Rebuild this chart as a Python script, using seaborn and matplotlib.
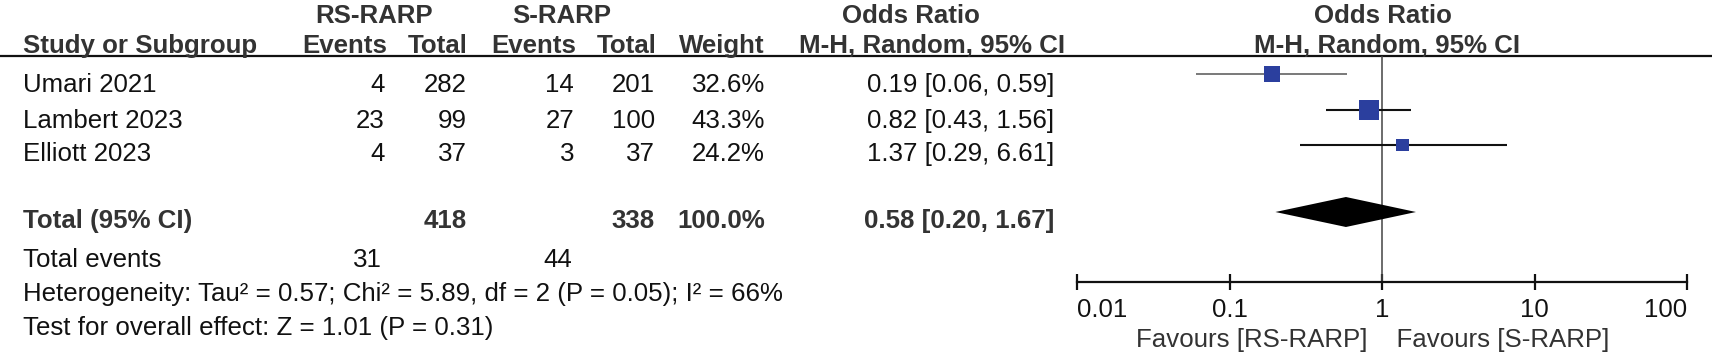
import numpy as np
import pandas as pd
import matplotlib
matplotlib.use("Agg")
import matplotlib.pyplot as plt
import matplotlib.transforms as mtransforms
import seaborn as sns

# ---------------- data ----------------
studies = ["Umari 2021", "Lambert 2023", "Elliott 2023"]
rs_events = [4, 23, 4]
rs_total = [282, 99, 37]
s_events = [14, 27, 3]
s_total = [201, 100, 37]
weights = [32.6, 43.3, 24.2]
or_est = [0.19, 0.82, 1.37]
ci_lo = [0.06, 0.43, 0.29]
ci_hi = [0.59, 1.56, 6.61]

pooled_or = 0.58
pooled_lo = 0.20
pooled_hi = 1.67
total_rs = 418
total_s = 338
total_weight = 100.0
events_rs = 31
events_s = 44

group_labels = ["RS-RARP", "S-RARP"]
heterogeneity_text = "Heterogeneity: Tau\u00b2 = 0.57; Chi\u00b2 = 5.89, df = 2 (P = 0.05); I\u00b2 = 66%"
overall_text = "Test for overall effect: Z = 1.01 (P = 0.31)"
tick_values = [0.01, 0.1, 1, 10, 100]
tick_labels = ["0.01", "0.1", "1", "10", "100"]
favours_left = "Favours [RS-RARP]"
favours_right = "Favours [S-RARP]"

# ---------------- style ----------------
sns.set_theme(style="white")
plt.rcParams["font.family"] = ["Liberation Sans", "DejaVu Sans"]

W, H = 1712, 355
DPI = 100
fig = plt.figure(figsize=(W / DPI, H / DPI), dpi=DPI)
fig.patch.set_facecolor("white")

# pixel-coordinate text layer
ax_t = fig.add_axes([0, 0, 1, 1])
ax_t.set_xlim(0, W)
ax_t.set_ylim(H, 0)
ax_t.axis("off")

FS = 18.6
HDR = "#333333"
TXT = "#111111"

# layout (pixels)
row_base = [92, 128, 161]
total_base = 228
events_base = 267
het_base = 301
test_base = 335
hdr1_base = 23
hdr2_base = 53
underline_y = 56

col_rs_ev, col_rs_tot, col_s_ev, col_s_tot, col_w, col_or = 385, 467, 574, 655, 765, 1054

def t(x, y, s, ha="left", bold=False, color=TXT, size=FS):
    ax_t.text(x, y, s, ha=ha, va="baseline", fontsize=size,
              fontweight="bold" if bold else "normal", color=color)

# headers
t(374, hdr1_base, group_labels[0], ha="center", bold=True, color=HDR)
t(562, hdr1_base, group_labels[1], ha="center", bold=True, color=HDR)
t(911, hdr1_base, "Odds Ratio", ha="center", bold=True, color=HDR)
t(1383, hdr1_base, "Odds Ratio", ha="center", bold=True, color=HDR)

t(23, hdr2_base, "Study or Subgroup", bold=True, color=HDR)
t(387, hdr2_base, "Events", ha="right", bold=True, color=HDR)
t(468, hdr2_base, "Total", ha="right", bold=True, color=HDR)
t(576, hdr2_base, "Events", ha="right", bold=True, color=HDR)
t(657, hdr2_base, "Total", ha="right", bold=True, color=HDR)
t(765, hdr2_base, "Weight", ha="right", bold=True, color=HDR)
t(932, hdr2_base, "M-H, Random, 95% CI", ha="center", bold=True, color=HDR)
t(1387, hdr2_base, "M-H, Random, 95% CI", ha="center", bold=True, color=HDR)

ax_t.plot([0, W], [underline_y, underline_y], color="#111111", lw=1.6,
          solid_capstyle="butt")

# study rows
for i, name in enumerate(studies):
    yb = row_base[i]
    t(23, yb, name)
    t(col_rs_ev, yb, str(rs_events[i]), ha="right")
    t(col_rs_tot, yb, str(rs_total[i]), ha="right")
    t(col_s_ev, yb, str(s_events[i]), ha="right")
    t(col_s_tot, yb, str(s_total[i]), ha="right")
    t(col_w, yb, f"{weights[i]:.1f}%", ha="right")
    t(col_or, yb, f"{or_est[i]:.2f} [{ci_lo[i]:.2f}, {ci_hi[i]:.2f}]", ha="right")

# total row
t(23, total_base, "Total (95% CI)", bold=True, color=HDR)
t(col_rs_tot, total_base, str(total_rs), ha="right", bold=True, color=HDR)
t(col_s_tot, total_base, str(total_s), ha="right", bold=True, color=HDR)
t(col_w, total_base, f"{total_weight:.1f}%", ha="right", bold=True, color=HDR)
t(col_or, total_base, f"{pooled_or:.2f} [{pooled_lo:.2f}, {pooled_hi:.2f}]",
  ha="right", bold=True, color=HDR)

t(23, events_base, "Total events")
t(382, events_base, str(events_rs), ha="right")
t(572, events_base, str(events_s), ha="right")
t(23, het_base, heterogeneity_text)
t(23, test_base, overall_text)

# ---------------- forest panel ----------------
x0, x1 = 1077, 1687
y_top, y_axis = underline_y, 282
ax = fig.add_axes([x0 / W, 1 - y_axis / H, (x1 - x0) / W, (y_axis - y_top) / H])
ax.set_facecolor("none")
ax.set_xscale("log")
ax.set_xlim(tick_values[0], tick_values[-1])
ax.set_ylim(y_axis, y_top)

for side in ["top", "left", "right"]:
    ax.spines[side].set_visible(False)
ax.spines["bottom"].set_color("#111111")
ax.spines["bottom"].set_linewidth(1.6)
ax.set_yticks([])
ax.set_xticks(tick_values)
ax.xaxis.set_minor_locator(matplotlib.ticker.NullLocator())
ax.set_xticklabels([])
ax.tick_params(axis="x", which="major", direction="inout", length=11.5,
               width=1.6, color="#111111", bottom=True)

# null line
ax.axvline(1, color="#444444", lw=1.1, zorder=1)

marker_y = [74, 110, 145]
diamond_y = 212

# CI lines
line_cols = ["#555555", "#111111", "#111111"]
line_w = [1.1, 1.5, 1.5]
for i in range(len(studies)):
    ax.hlines(marker_y[i], ci_lo[i], ci_hi[i], color=line_cols[i], lw=line_w[i], zorder=2)

# squares (area ~ weight)
df = pd.DataFrame({"or": or_est, "y": marker_y, "w": weights})
size_map = {w: (0.72 * 20 * (w / max(weights)) ** 0.75) ** 2 for w in weights}
sns.scatterplot(data=df, x="or", y="y", size="w", sizes=size_map, marker="s",
                color="#2b3f9e", edgecolor="none", linewidth=0, legend=False,
                ax=ax, zorder=3)
ax.set_xlabel("")
ax.set_ylabel("")
ax.set_ylim(y_axis, y_top)
ax.set_xlim(tick_values[0], tick_values[-1])

# pooled diamond
half_h = 15
ax.fill([pooled_lo, pooled_or, pooled_hi, pooled_or],
        [diamond_y, diamond_y - half_h, diamond_y, diamond_y + half_h],
        color="#000000", lw=0, zorder=3)

# tick labels
bt = mtransforms.blended_transform_factory(ax.transData, ax_t.transData)
for k, (v, lab) in enumerate(zip(tick_values, tick_labels)):
    ha = "left" if k == 0 else ("right" if k == len(tick_values) - 1 else "center")
    ax.text(v, 317, lab, transform=bt, ha=ha, va="baseline", fontsize=FS, color=TXT)

ax.text(1, 347, favours_left + "  ", transform=bt, ha="right", va="baseline",
        fontsize=FS, color="#333333")
ax.text(1, 347, "  " + favours_right, transform=bt, ha="left", va="baseline",
        fontsize=FS, color="#333333")

fig.savefig("out.png", dpi=DPI, facecolor="white")
